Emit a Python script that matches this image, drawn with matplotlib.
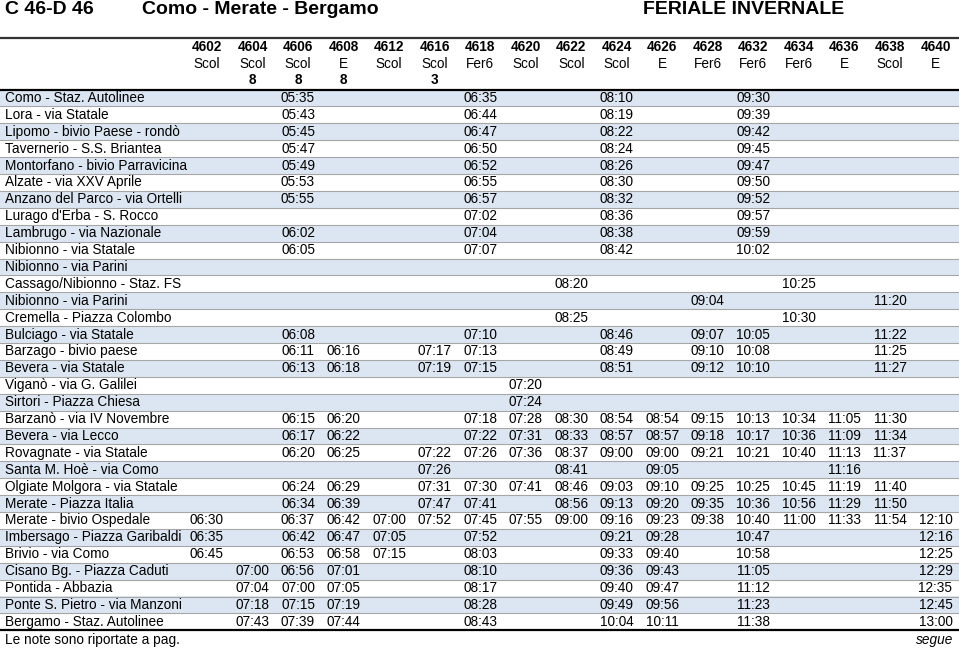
import matplotlib
matplotlib.use("Agg")
import matplotlib.pyplot as plt

plt.rcParams['font.family'] = ['Liberation Sans', 'DejaVu Sans']

# service numbers, service type and note for each column
services = ["4602", "4604", "4606", "4608", "4612", "4616", "4618", "4620", "4622",
            "4624", "4626", "4628", "4632", "4634", "4636", "4638", "4640"]
kinds = ["Scol", "Scol", "Scol", "E", "Scol", "Scol", "Fer6", "Scol", "Scol",
         "Scol", "E", "Fer6", "Fer6", "Fer6", "E", "Scol", "E"]
notes = ["", "8", "8", "8", "", "3", "", "", "", "", "", "", "", "", "", "", ""]

stations = [
    "Como - Staz. Autolinee", "Lora - via Statale", "Lipomo - bivio Paese - rondò",
    "Tavernerio - S.S. Briantea", "Montorfano - bivio Parravicina",
    "Alzate - via XXV Aprile", "Anzano del Parco - via Ortelli",
    "Lurago d'Erba - S. Rocco", "Lambrugo - via Nazionale", "Nibionno - via Statale",
    "Nibionno - via Parini", "Cassago/Nibionno - Staz. FS", "Nibionno - via Parini",
    "Cremella - Piazza Colombo", "Bulciago - via Statale", "Barzago - bivio paese",
    "Bevera - via Statale", "Viganò - via G. Galilei", "Sirtori - Piazza Chiesa",
    "Barzanò - via IV Novembre", "Bevera - via Lecco", "Rovagnate - via Statale",
    "Santa M. Hoè - via Como", "Olgiate Molgora - via Statale", "Merate - Piazza Italia",
    "Merate - bivio Ospedale", "Imbersago - Piazza Garibaldi", "Brivio - via Como",
    "Cisano Bg. - Piazza Caduti", "Pontida - Abbazia", "Ponte S. Pietro - via Manzoni",
    "Bergamo - Staz. Autolinee",
]

# departure times per station, keyed by service number
times = [
    {"4606": "05:35", "4618": "06:35", "4624": "08:10", "4632": "09:30"},
    {"4606": "05:43", "4618": "06:44", "4624": "08:19", "4632": "09:39"},
    {"4606": "05:45", "4618": "06:47", "4624": "08:22", "4632": "09:42"},
    {"4606": "05:47", "4618": "06:50", "4624": "08:24", "4632": "09:45"},
    {"4606": "05:49", "4618": "06:52", "4624": "08:26", "4632": "09:47"},
    {"4606": "05:53", "4618": "06:55", "4624": "08:30", "4632": "09:50"},
    {"4606": "05:55", "4618": "06:57", "4624": "08:32", "4632": "09:52"},
    {"4618": "07:02", "4624": "08:36", "4632": "09:57"},
    {"4606": "06:02", "4618": "07:04", "4624": "08:38", "4632": "09:59"},
    {"4606": "06:05", "4618": "07:07", "4624": "08:42", "4632": "10:02"},
    {},
    {"4622": "08:20", "4634": "10:25"},
    {"4628": "09:04", "4638": "11:20"},
    {"4622": "08:25", "4634": "10:30"},
    {"4606": "06:08", "4618": "07:10", "4624": "08:46", "4628": "09:07", "4632": "10:05",
     "4638": "11:22"},
    {"4606": "06:11", "4608": "06:16", "4616": "07:17", "4618": "07:13", "4624": "08:49",
     "4628": "09:10", "4632": "10:08", "4638": "11:25"},
    {"4606": "06:13", "4608": "06:18", "4616": "07:19", "4618": "07:15", "4624": "08:51",
     "4628": "09:12", "4632": "10:10", "4638": "11:27"},
    {"4620": "07:20"},
    {"4620": "07:24"},
    {"4606": "06:15", "4608": "06:20", "4618": "07:18", "4620": "07:28", "4622": "08:30",
     "4624": "08:54", "4626": "08:54", "4628": "09:15", "4632": "10:13", "4634": "10:34",
     "4636": "11:05", "4638": "11:30"},
    {"4606": "06:17", "4608": "06:22", "4618": "07:22", "4620": "07:31", "4622": "08:33",
     "4624": "08:57", "4626": "08:57", "4628": "09:18", "4632": "10:17", "4634": "10:36",
     "4636": "11:09", "4638": "11:34"},
    {"4606": "06:20", "4608": "06:25", "4616": "07:22", "4618": "07:26", "4620": "07:36",
     "4622": "08:37", "4624": "09:00", "4626": "09:00", "4628": "09:21", "4632": "10:21",
     "4634": "10:40", "4636": "11:13", "4638": "11:37"},
    {"4616": "07:26", "4622": "08:41", "4626": "09:05", "4636": "11:16"},
    {"4606": "06:24", "4608": "06:29", "4616": "07:31", "4618": "07:30", "4620": "07:41",
     "4622": "08:46", "4624": "09:03", "4626": "09:10", "4628": "09:25", "4632": "10:25",
     "4634": "10:45", "4636": "11:19", "4638": "11:40"},
    {"4606": "06:34", "4608": "06:39", "4616": "07:47", "4618": "07:41", "4622": "08:56",
     "4624": "09:13", "4626": "09:20", "4628": "09:35", "4632": "10:36", "4634": "10:56",
     "4636": "11:29", "4638": "11:50"},
    {"4602": "06:30", "4606": "06:37", "4608": "06:42", "4612": "07:00", "4616": "07:52",
     "4618": "07:45", "4620": "07:55", "4622": "09:00", "4624": "09:16", "4626": "09:23",
     "4628": "09:38", "4632": "10:40", "4634": "11:00", "4636": "11:33", "4638": "11:54",
     "4640": "12:10"},
    {"4602": "06:35", "4606": "06:42", "4608": "06:47", "4612": "07:05", "4618": "07:52",
     "4624": "09:21", "4626": "09:28", "4632": "10:47", "4640": "12:16"},
    {"4602": "06:45", "4606": "06:53", "4608": "06:58", "4612": "07:15", "4618": "08:03",
     "4624": "09:33", "4626": "09:40", "4632": "10:58", "4640": "12:25"},
    {"4604": "07:00", "4606": "06:56", "4608": "07:01", "4618": "08:10", "4624": "09:36",
     "4626": "09:43", "4632": "11:05", "4640": "12:29"},
    {"4604": "07:04", "4606": "07:00", "4608": "07:05", "4618": "08:17", "4624": "09:40",
     "4626": "09:47", "4632": "11:12", "4640": "12:35"},
    {"4604": "07:18", "4606": "07:15", "4608": "07:19", "4618": "08:28", "4624": "09:49",
     "4626": "09:56", "4632": "11:23", "4640": "12:45"},
    {"4604": "07:43", "4606": "07:39", "4608": "07:44", "4618": "08:43", "4624": "10:04",
     "4626": "10:11", "4632": "11:38", "4640": "13:00"},
]

W, H = 959, 648
fig = plt.figure(figsize=(W / 100, H / 100), dpi=100)
ax = fig.add_axes([0, 0, 1, 1])
ax.set_xlim(0, W)
ax.set_ylim(H, 0)
ax.axis('off')

col_x0, col_dx = 207, 45.53
row_y0, row_h = 89.5, 16.9
fs = 9.8

# titles
ax.text(5, 10, "C 46-D 46", fontsize=14, fontweight='bold', va='center')
ax.text(142, 10, "Como - Merate - Bergamo", fontsize=14, fontweight='bold', va='center')
ax.text(643, 10, "FERIALE INVERNALE", fontsize=14, fontweight='bold', va='center')

# header
for i, s in enumerate(services):
    x = col_x0 + i * col_dx
    ax.text(x, 47, s, fontsize=fs, fontweight='bold', ha='center', va='center')
    ax.text(x, 63.5, kinds[i], fontsize=fs, ha='center', va='center')
    ax.text(x, 80, notes[i], fontsize=fs, fontweight='bold', ha='center', va='center')

# row shading and separators
n = len(stations)
centers = [row_y0 + row_h * (r + 0.5) for r in range(n)]
shade = [c for r, c in enumerate(centers) if r % 2 == 0]
ax.barh(shade, W, height=row_h, left=0, color='#dce6f2', edgecolor='none', zorder=0)
for r in range(1, n):
    ax.axhline(row_y0 + row_h * r, color='#a6a6a6', lw=0.8, zorder=1)
ax.axhline(37.5, color='#333333', lw=1.6, zorder=2)
ax.axhline(row_y0, color='black', lw=1.6, zorder=2)
ax.axhline(row_y0 + row_h * n, color='black', lw=1.6, zorder=2)

# body
for r, name in enumerate(stations):
    y = centers[r]
    ax.text(5, y, name, fontsize=fs, va='center')
    for s, t in times[r].items():
        x = col_x0 + services.index(s) * col_dx
        ax.text(x, y, t, fontsize=fs, ha='center', va='center')

# footer
ax.text(5, 640, "Le note sono riportate a pag.", fontsize=fs, va='center')
ax.text(953, 640, "segue", fontsize=fs, style='italic', ha='right', va='center')

fig.savefig("out.png", dpi=100)
